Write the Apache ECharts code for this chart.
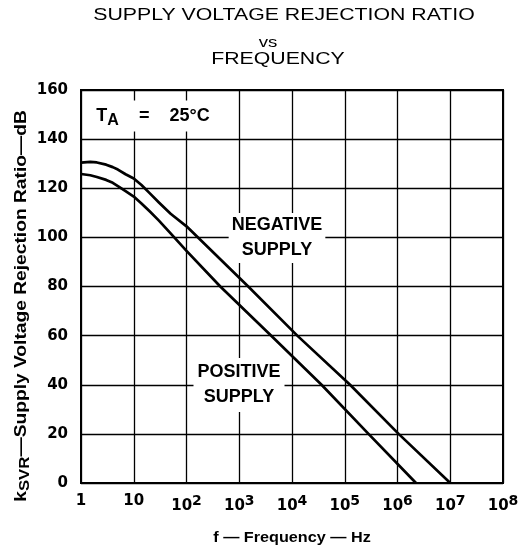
<!DOCTYPE html>
<html>
<head>
<meta charset="utf-8">
<script src="https://cdn.jsdelivr.net/npm/echarts@6/dist/echarts.min.js"></script>
<style>
  html, body { margin: 0; padding: 0; background: #fff; }
  #chart { width: 528px; height: 551px; }
</style>
</head>
<body>
<div id="chart"></div>
<script>
// values
const freqNeg = [1, 1.5, 2, 3, 4, 5, 7, 10, 14, 20, 30, 50, 100, 1480, 12600, 126000, 1050000, 10000000]
const negSupply = [130.4, 130.7, 130.5, 129.6, 128.6, 127.6, 125.7, 124, 121.3, 118, 114.2, 109.6, 104.5, 80, 60, 40, 20, 0]
const freqPos = [1, 1.5, 2, 3, 4, 5, 7, 10, 14, 20, 30, 50, 100, 437, 4470, 36300, 282000, 2240000]
const posSupply = [125.8, 125.3, 124.6, 123.4, 122.2, 120.9, 118.8, 116.6, 113.8, 110.6, 106.8, 101.6, 94.5, 80, 59, 40, 20, 0]
const xTickLabels = ['1', '10', '10^2', '10^3', '10^4', '10^5', '10^6', '10^7', '10^8']
const yTickLabels = ['0', '20', '40', '60', '80', '100', '120', '140', '160']

const tickFont = 'DejaVu Sans'
const labelFont = 'Liberation Sans'
const pairs = (xs, ys) => xs.map((x, i) => [x, ys[i]])

const chart = echarts.init(document.getElementById('chart'), null, { renderer: 'canvas' })

const option = {
  animation: false,
  backgroundColor: '#fff',
  grid: {
    left: 81,
    right: 25,
    top: 90,
    bottom: 68,
    show: true,
    borderColor: '#000',
    borderWidth: 2
  },
  xAxis: {
    type: 'log',
    logBase: 10,
    min: 1,
    max: 100000000,
    interval: 1,
    axisLine: { show: false },
    axisTick: { show: false },
    splitLine: { show: true, lineStyle: { color: '#000', width: 1.3 } },
    axisLabel: {
      margin: 11,
      color: '#000',
      fontFamily: tickFont,
      fontWeight: 'bold',
      fontSize: 15,
      formatter: function (v) {
        const e = Math.round(Math.log10(v))
        const t = xTickLabels[e]
        if (t.indexOf('^') < 0) return t
        const p = t.split('^')
        return p[0] + '{sup|' + p[1] + '}'
      },
      rich: {
        sup: { fontFamily: tickFont, fontWeight: 'bold', fontSize: 14, color: '#000', padding: [0, 0, 10, 0] }
      }
    }
  },
  yAxis: {
    type: 'value',
    min: 0,
    max: 160,
    interval: 20,
    axisLine: { show: false },
    axisTick: { show: false },
    splitLine: { show: true, lineStyle: { color: '#000', width: 1.3 } },
    axisLabel: {
      margin: 13,
      color: '#000',
      fontFamily: tickFont,
      fontWeight: 'bold',
      fontSize: 15,
      formatter: function (v) { return yTickLabels[Math.round(v / 20)] }
    }
  },
  series: [
    {
      name: 'NEGATIVE SUPPLY',
      type: 'line',
      data: pairs(freqNeg, negSupply),
      showSymbol: false,
      lineStyle: { color: '#000', width: 2.7, join: 'round' },
      z: 3
    },
    {
      name: 'POSITIVE SUPPLY',
      type: 'line',
      data: pairs(freqPos, posSupply),
      showSymbol: false,
      lineStyle: { color: '#000', width: 2.7, join: 'round' },
      z: 3
    }
  ],
  graphic: [
    {
      type: 'text', x: 284, y: 16, scaleX: 1.33, z: 20,
      style: { text: 'SUPPLY VOLTAGE REJECTION RATIO', fontFamily: labelFont, fontSize: 16, fill: '#000', align: 'center', verticalAlign: 'middle' }
    },
    {
      type: 'text', x: 268, y: 43, scaleX: 1.33, z: 20,
      style: { text: 'vs', fontFamily: labelFont, fontSize: 14, fill: '#000', align: 'center', verticalAlign: 'middle' }
    },
    {
      type: 'text', x: 278, y: 60, scaleX: 1.33, z: 20,
      style: { text: 'FREQUENCY', fontFamily: labelFont, fontSize: 16, fill: '#000', align: 'center', verticalAlign: 'middle' }
    },
    {
      type: 'text', x: 153, y: 116, z: 20,
      style: {
        text: 'T{sub|A}    =    25°C',
        fontFamily: labelFont, fontWeight: 'bold', fontSize: 18,
        fill: '#000', align: 'center', verticalAlign: 'middle',
        backgroundColor: '#fff', padding: [3, 8],
        rich: {
          sub: { fontFamily: labelFont, fontWeight: 'bold', fontSize: 16, fill: '#000', padding: [9, 0, 0, 0] }
        }
      }
    },
    {
      type: 'text', x: 277, y: 238, z: 20,
      style: {
        text: 'NEGATIVE\nSUPPLY', fontFamily: labelFont, fontWeight: 'bold', fontSize: 18, lineHeight: 25,
        fill: '#000', align: 'center', verticalAlign: 'middle', backgroundColor: '#fff', padding: [0, 3]
      }
    },
    {
      type: 'text', x: 239, y: 385, z: 20,
      style: {
        text: 'POSITIVE\nSUPPLY', fontFamily: labelFont, fontWeight: 'bold', fontSize: 18, lineHeight: 25,
        fill: '#000', align: 'center', verticalAlign: 'middle', backgroundColor: '#fff', padding: [2, 4]
      }
    },
    {
      type: 'text', x: 22, y: 306, rotation: Math.PI / 2, scaleX: 1.2, z: 20,
      style: {
        text: 'k{sub|SVR}—Supply Voltage Rejection Ratio—dB',
        fontFamily: labelFont, fontWeight: 'bold', fontSize: 16, fill: '#000', align: 'center', verticalAlign: 'middle',
        rich: { sub: { fontFamily: labelFont, fontWeight: 'bold', fontSize: 14, fill: '#000', padding: [6, 0, 0, 0] } }
      }
    },
    {
      type: 'text', x: 292, y: 538, scaleX: 1.08, z: 20,
      style: { text: 'f — Frequency — Hz', fontFamily: labelFont, fontWeight: 'bold', fontSize: 15, fill: '#000', align: 'center', verticalAlign: 'middle' }
    }
  ]
}

chart.setOption(option)
window.addEventListener('resize', () => chart.resize())
</script>
</body>
</html>
